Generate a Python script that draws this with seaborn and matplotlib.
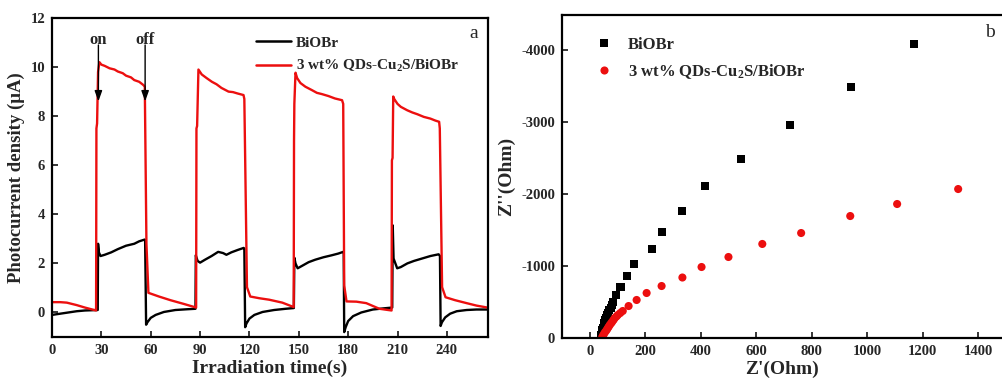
import numpy as np
import pandas as pd
import matplotlib
matplotlib.use("Agg")
import matplotlib.pyplot as plt
import seaborn as sns

# ---------------- data: photocurrent (panel a) ----------------
t_bare = [0, 5, 10, 15, 20, 27.8, 28.0, 28.5, 29.5, 32, 36, 40, 45, 50, 53, 56.3, 56.6,
          57.2, 58, 60, 63, 68, 75, 82, 87.2, 87.4, 88.5, 90, 93, 97, 101, 104, 106, 109,
          113, 116.5, 116.9, 117.4, 118.2, 120, 123, 128, 135, 142, 147.0, 147.3, 148,
          149.3, 152, 156, 160, 165, 170, 174, 177.0, 177.3, 177.6, 178.5, 180, 183, 188,
          195, 202, 206.8, 207.1, 207.6, 209.8, 212, 216, 220, 225, 230, 235, 235.8, 236.2,
          237, 239, 242, 246, 252, 258, 264.6]
i_bare = [-0.1, -0.05, 0.0, 0.05, 0.08, 0.1, 2.8, 2.45, 2.3, 2.35, 2.45, 2.58, 2.72, 2.8,
          2.9, 2.97, 2.95, -0.5, -0.4, -0.22, -0.1, 0.02, 0.1, 0.13, 0.15, 2.33, 2.1, 2.03,
          2.15, 2.3, 2.47, 2.42, 2.35, 2.45, 2.55, 2.63, 2.6, -0.6, -0.45, -0.25, -0.1,
          0.02, 0.1, 0.15, 0.18, 2.23, 2.0, 1.8, 1.9, 2.05, 2.15, 2.25, 2.33, 2.4, 2.47,
          2.4, -0.8, -0.6, -0.35, -0.15, 0.0, 0.12, 0.17, 0.2, 3.55, 2.2, 1.8, 1.85, 2.0,
          2.1, 2.2, 2.3, 2.37, 2.3, -0.55, -0.4, -0.2, -0.05, 0.05, 0.1, 0.12, 0.12]

t_comp = [0, 5, 9, 15, 20, 26.8, 27.0, 27.4, 28.0, 28.8, 30, 32, 35, 38, 40, 43, 45, 48,
          50, 53, 55.5, 56.4, 57.4, 58.6, 65, 72, 80, 87.6, 87.8, 88.2, 89.0, 91, 94, 97.2,
          100, 103, 107.3, 110, 113, 116.4, 116.9, 118.5, 120.5, 126, 132, 140, 146.9,
          147.1, 147.3, 148.0, 149, 151, 154, 158, 161, 164, 168, 172, 176.3, 177.0,
          177.6, 179, 185, 191, 199, 206.4, 206.6, 207.0, 207.4, 208, 210, 212, 215.9,
          219, 222, 226, 230, 233, 235.3, 235.7, 237.1, 239.2, 245, 252, 258, 264.6]
i_comp = [0.42, 0.42, 0.40, 0.30, 0.20, 0.08, 7.5, 7.7, 9.8, 10.2, 10.1, 10.05, 9.95, 9.9,
          9.82, 9.75, 9.65, 9.58, 9.47, 9.4, 9.27, 9.2, 2.8, 0.8, 0.65, 0.5, 0.35, 0.2, 7.5,
          7.6, 9.9, 9.7, 9.55, 9.4, 9.3, 9.15, 9.0, 8.98, 8.92, 8.86, 8.7, 1.03, 0.65, 0.58,
          0.52, 0.4, 0.22, 7.0, 8.5, 9.77, 9.55, 9.35, 9.2, 9.06, 8.95, 8.9, 8.82, 8.72,
          8.65, 8.5, 1.1, 0.45, 0.44, 0.38, 0.15, 0.08, 6.2, 6.3, 8.8, 8.7, 8.5, 8.38, 8.24,
          8.15, 8.08, 7.97, 7.9, 7.82, 7.77, 7.5, 1.03, 0.62, 0.5, 0.38, 0.28, 0.2]

# ---------------- data: Nyquist plot (panel b) ----------------
zre_bare = [40, 41, 43, 45, 47, 50, 53, 56, 60, 63, 67, 71, 76, 79, 83, 96, 111, 133,
            160, 226, 262, 331, 417, 546, 723, 942, 1169]
zim_bare = [0, -35, -70, -105, -140, -175, -210, -245, -280, -315, -350, -385, -420, -455,
            -495, -597, -708, -861, -1030, -1236, -1472, -1764, -2111, -2486, -2958,
            -3486, -4083]
zre_comp = [45, 47, 51, 55, 60, 64, 68, 72, 77, 81, 86, 90, 96, 101, 110, 119, 140, 169,
            205, 259, 334, 403, 500, 622, 762, 939, 1108, 1328]
zim_comp = [-8, -28, -55, -80, -105, -130, -155, -180, -205, -226, -252, -278, -298, -319,
            -347, -375, -444, -528, -625, -722, -840, -986, -1125, -1306, -1458, -1694,
            -1861, -2069]

label_bare = "BiOBr"
label_comp = "3 wt% QDs-Cu$_\\mathbf{2}$S/BiOBr"

x_ticks_a = [0, 30, 60, 90, 120, 150, 180, 210, 240]
y_ticks_a = [0, 2, 4, 6, 8, 10, 12]
x_ticks_b = [0, 200, 400, 600, 800, 1000, 1200, 1400]
y_ticks_b = [0, -1000, -2000, -3000, -4000]

# ---------------- style ----------------
sns.set_theme(style="ticks")
plt.rcParams["font.family"] = ["Liberation Serif", "DejaVu Serif"]
plt.rcParams["font.weight"] = "bold"
plt.rcParams["mathtext.fontset"] = "custom"
plt.rcParams["mathtext.rm"] = "Liberation Serif:bold"
plt.rcParams["mathtext.bf"] = "Liberation Serif:bold"
plt.rcParams["mathtext.it"] = "Liberation Serif:bold"

RED = "#ec0f0f"
fig = plt.figure(figsize=(10.02, 3.84), dpi=100)
W, H = 1002, 384
ax1 = fig.add_axes([52 / W, (H - 337) / H, 436 / W, 319 / H])
ax2 = fig.add_axes([562 / W, (H - 338) / H, 440 / W, 323 / H])

df_a = pd.concat([
    pd.DataFrame({"t": t_bare, "i": i_bare, "s": label_bare}),
    pd.DataFrame({"t": t_comp, "i": i_comp, "s": label_comp}),
])
sns.lineplot(data=df_a, x="t", y="i", hue="s", palette={label_bare: "black", label_comp: RED},
             estimator=None, sort=False, linewidth=1.7, ax=ax1)

df_b = pd.concat([
    pd.DataFrame({"x": zre_bare, "y": zim_bare, "s": label_bare}),
    pd.DataFrame({"x": zre_comp, "y": zim_comp, "s": label_comp}),
])
sns.scatterplot(data=df_b, x="x", y="y", hue="s", style="s",
                palette={label_bare: "black", label_comp: RED},
                markers={label_bare: "s", label_comp: "o"},
                s=34, linewidth=0, ax=ax2)

tick_kw = dict(direction="in", length=4, width=1.3, labelsize=10.5, pad=5)
for ax in (ax1, ax2):
    ax.tick_params(axis="both", which="major", **tick_kw)
    for sp in ax.spines.values():
        sp.set_linewidth(1.6)
        sp.set_color("black")

# panel a
ax1.set_xlim(0, 265)
ax1.set_ylim(-1, 12)
ax1.set_xticks(x_ticks_a)
ax1.set_yticks(y_ticks_a)
ax1.set_xticklabels([str(v) for v in x_ticks_a], fontweight="bold")
ax1.set_yticklabels([str(v) for v in y_ticks_a], fontweight="bold")
ax1.set_xlabel("Irradiation time(s)", fontsize=14, fontweight="bold", labelpad=2)
ax1.set_ylabel("Photocurrent density (\u03bcA)", fontsize=13.5, fontweight="bold", labelpad=4)
ax1.text(0.968, 0.95, "a", transform=ax1.transAxes, fontsize=14, fontweight="normal",
         ha="center", va="center")
for xa, txt in ((28.2, "on"), (56.6, "off")):
    ax1.annotate("", xy=(xa, 8.6), xytext=(xa, 10.9),
                 arrowprops=dict(arrowstyle="-|>,head_width=0.25,head_length=0.7",
                                 color="black", lw=1.0,
                                 mutation_scale=9, shrinkA=0, shrinkB=0))
    ax1.text(xa, 11.1, txt, fontsize=12, fontweight="bold", ha="center", va="center")
leg1 = ax1.legend(loc="upper left", bbox_to_anchor=((256 - 52) / 436, (337 - 36) / 319),
                  frameon=False, fontsize=11, borderaxespad=0, borderpad=0,
                  handlelength=2.3, handletextpad=0.3, labelspacing=0.55)
for line in leg1.get_lines():
    line.set_linewidth(1.8)
for txt in leg1.get_texts():
    txt.set_fontweight("bold")

# panel b
ax2.set_xlim(-100, 1486)
ax2.set_ylim(0, -4486)
ax2.set_xticks(x_ticks_b)
ax2.set_yticks(y_ticks_b)
ax2.set_xticklabels([str(v) for v in x_ticks_b], fontweight="bold")
ax2.set_yticklabels([str(v) for v in y_ticks_b], fontweight="bold")
ax2.spines["right"].set_visible(False)
ax2.set_xlabel("Z'(Ohm)", fontsize=14, fontweight="bold", labelpad=2)
ax2.set_ylabel("Z''(Ohm)", fontsize=14, fontweight="bold", labelpad=4)
ax2.text(0.973, 0.947, "b", transform=ax2.transAxes, fontsize=14, fontweight="normal",
         ha="center", va="center")
leg2 = ax2.legend(loc="upper left", bbox_to_anchor=((587 - 562) / 440, (338 - 37) / 323),
                  frameon=False, fontsize=12, borderaxespad=0, borderpad=0,
                  handletextpad=0.45, labelspacing=0.55, markerscale=1.0)
for txt in leg2.get_texts():
    txt.set_fontweight("bold")

fig.savefig("out.png", dpi=100)
